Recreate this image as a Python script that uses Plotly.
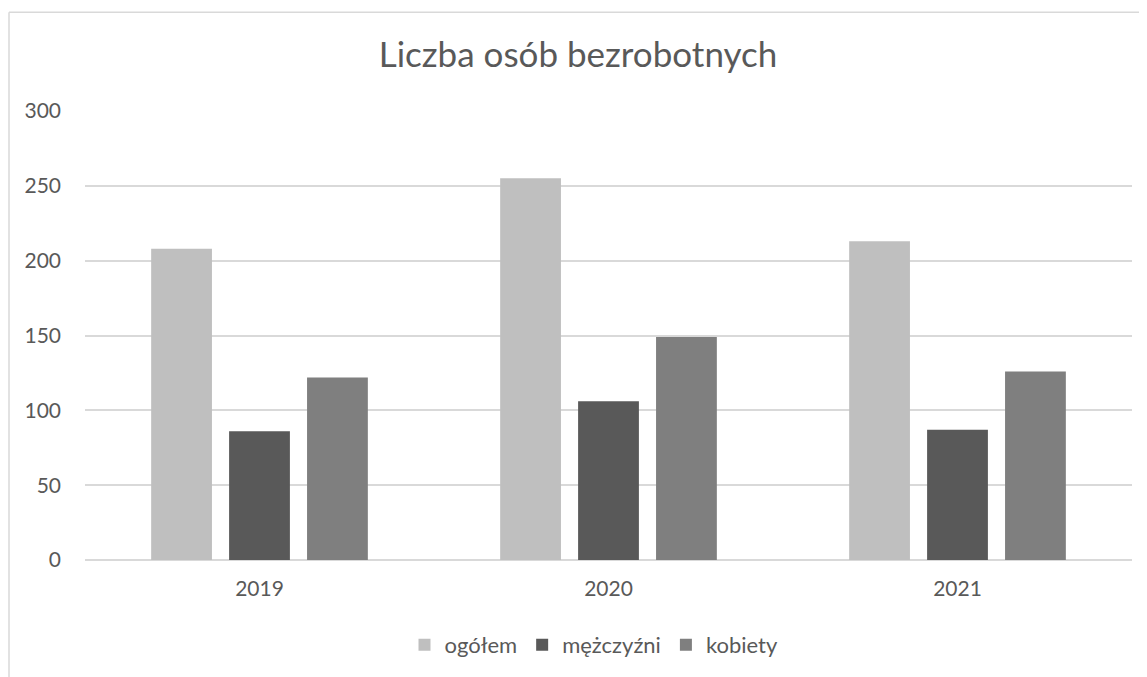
import plotly.graph_objects as go

years = ["2019", "2020", "2021"]
ogolem = [208, 255, 213]
mezczyzni = [86, 106, 87]
kobiety = [122, 149, 126]
series_names = ["ogółem", "mężczyźni", "kobiety"]
colors = ["#BFBFBF", "#595959", "#7F7F7F"]
y_ticks = [0, 50, 100, 150, 200, 250, 300]

FONT = "Lato"
TXT = "#595959"

fig = go.Figure()
for name, vals, col in zip(series_names, [ogolem, mezczyzni, kobiety], colors):
    fig.add_trace(go.Bar(x=years, y=vals, name=name, marker=dict(color=col, line=dict(width=0))))

OFF = 8  # page body margin
SW, SH = 1147, 677          # screen size
W, H = SW - OFF, SH - OFF   # figure size
# plot area in screen coords
PL, PR, PT, PB = 85, 1132, 111, 561
L, R, T, B = PL - OFF, SW - PR, PT - OFF, SH - PB
pw, ph = PR - PL, PB - PT

def px(x):
    return (x - PL) / pw

def py(y):
    return (PB - y) / ph

fig.update_layout(
    width=W, height=H,
    margin=dict(l=L, r=R, t=T, b=B),
    paper_bgcolor="white", plot_bgcolor="white",
    barmode="group", bargap=0.33, bargroupgap=0.22,
    font=dict(family=FONT, color=TXT, size=21),
    title=dict(text="Liczba osób bezrobotnych", x=(578 - OFF) / W, xanchor="center",
               y=1 - (55 - OFF) / H, yanchor="middle", font=dict(size=35, color=TXT, family=FONT)),
    showlegend=True,
    legend=dict(orientation="h", x=px(594), xanchor="center", y=py(645), yanchor="middle",
                font=dict(size=22, color=TXT), itemwidth=30, traceorder="normal"),
    xaxis=dict(showgrid=False, showline=False, ticks="", tickfont=dict(size=21, color=TXT),
               ticklabelstandoff=14),
    yaxis=dict(range=[0, 300], tickvals=y_ticks, showgrid=True, gridcolor="#D9D9D9",
               gridwidth=1.5, zeroline=True, zerolinecolor="#D9D9D9", zerolinewidth=1.5,
               showline=False, ticks="", tickfont=dict(size=21, color=TXT),
               ticklabelstandoff=23),
    shapes=[
        dict(type="line", xref="paper", yref="paper", x0=px(9), x1=px(SW + 5), y0=py(12), y1=py(12),
             line=dict(color="#D9D9D9", width=1.5)),
        dict(type="line", xref="paper", yref="paper", x0=px(9), x1=px(9), y0=py(12), y1=py(SH + 5),
             line=dict(color="#D9D9D9", width=1.5)),
    ],
)

fig.write_html("out.html")
